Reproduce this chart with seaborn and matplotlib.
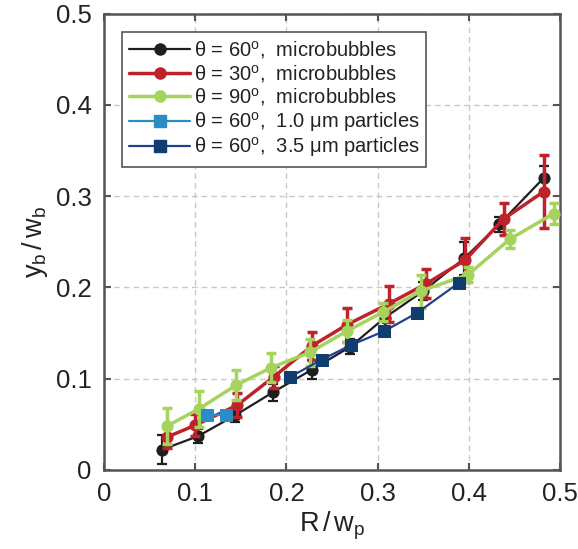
import numpy as np
import pandas as pd
import seaborn as sns
import matplotlib
matplotlib.use("Agg")
import matplotlib.pyplot as plt
from matplotlib.lines import Line2D

# ---- data ----
x_black = [0.063, 0.103, 0.144, 0.185, 0.228, 0.270, 0.308, 0.350, 0.395, 0.433, 0.482]
y_black = [0.022, 0.037, 0.060, 0.085, 0.110, 0.135, 0.167, 0.196, 0.232, 0.269, 0.320]
e_black = [0.016, 0.008, 0.007, 0.009, 0.010, 0.008, 0.010, 0.010, 0.018, 0.008, 0.013]

x_red = [0.069, 0.100, 0.146, 0.186, 0.228, 0.266, 0.312, 0.353, 0.396, 0.438, 0.482]
y_red = [0.036, 0.049, 0.071, 0.102, 0.136, 0.159, 0.182, 0.204, 0.230, 0.275, 0.305]
e_red = [0.012, 0.012, 0.013, 0.012, 0.015, 0.019, 0.020, 0.016, 0.024, 0.018, 0.040]

x_green = [0.069, 0.104, 0.145, 0.183, 0.226, 0.266, 0.306, 0.347, 0.399, 0.445, 0.493]
y_green = [0.048, 0.067, 0.093, 0.112, 0.129, 0.152, 0.173, 0.196, 0.214, 0.253, 0.281]
e_green = [0.020, 0.020, 0.016, 0.016, 0.015, 0.012, 0.010, 0.018, 0.008, 0.010, 0.012]

x_p1 = [0.113, 0.134]
y_p1 = [0.060, 0.060]

x_p35 = [0.204, 0.239, 0.271, 0.307, 0.343, 0.389]
y_p35 = [0.102, 0.121, 0.137, 0.152, 0.172, 0.205]

labels = [r"θ = 60$^{\mathregular{o}}$,  microbubbles",
          r"θ = 30$^{\mathregular{o}}$,  microbubbles",
          r"θ = 90$^{\mathregular{o}}$,  microbubbles",
          r"θ = 60$^{\mathregular{o}}$,  1.0 μm particles",
          r"θ = 60$^{\mathregular{o}}$,  3.5 μm particles"]

xticks = [0, 0.1, 0.2, 0.3, 0.4, 0.5]
yticks = [0, 0.1, 0.2, 0.3, 0.4, 0.5]
ticklabels = ["0", "0.1", "0.2", "0.3", "0.4", "0.5"]

# ---- style ----
sns.set_theme(style="white")
plt.rcParams["font.family"] = ["Liberation Sans", "DejaVu Sans"]
plt.rcParams["mathtext.fontset"] = "custom"
plt.rcParams["mathtext.rm"] = "Liberation Sans"
plt.rcParams["mathtext.it"] = "Liberation Sans"

fig = plt.figure(figsize=(5.78, 5.49), dpi=100)
ax = fig.add_axes([0.180, 0.144, 0.789, 0.831])

c_black = "#1e1e1e"
c_red = "#c0222b"
c_green = "#a5d35c"
c_lb = "#2a8dc4"
c_db = "#0e3d6e"
c_dbl = "#23408f"

series = [
    (x_black, y_black, e_black, c_black, c_black, 1.6, "o", 8, labels[0]),
    (x_red, y_red, e_red, c_red, c_red, 2.5, "o", 8, labels[1]),
    (x_green, y_green, e_green, c_green, c_green, 2.5, "o", 8, labels[2]),
    (x_p1, y_p1, None, c_lb, c_lb, 1.6, "s", 8, labels[3]),
    (x_p35, y_p35, None, c_dbl, c_db, 1.6, "s", 8.5, labels[4]),
]

handles = []
for i, (xs, ys, es, lc, mc, lw, mk, ms, lab) in enumerate(series):
    df = pd.DataFrame({"x": xs, "y": ys})
    if es is not None:
        ax.errorbar(xs, ys, yerr=es, fmt="none", ecolor=lc, elinewidth=lw,
                    capsize=3.5, capthick=lw, zorder=2 + i)
    sns.lineplot(data=df, x="x", y="y", ax=ax, color=lc, linewidth=lw,
                 marker=mk, markersize=ms, markerfacecolor=mc,
                 markeredgecolor=mc, sort=False, zorder=2.5 + i,
                 legend=False)
    handles.append(Line2D([0], [0], color=lc, lw=lw, marker=mk, markersize=ms,
                          markerfacecolor=mc, markeredgecolor=mc, label=lab))

ax.set_xlim(0, 0.5)
ax.set_ylim(0, 0.5)
ax.set_xticks(xticks)
ax.set_yticks(yticks)
ax.set_xticklabels(ticklabels)
ax.set_yticklabels(ticklabels)
ax.grid(True, color="#c8c8c8", linestyle=(0, (4, 3)), linewidth=1.0)
ax.set_axisbelow(True)

for s in ax.spines.values():
    s.set_visible(True)
    s.set_color("#555555")
    s.set_linewidth(1.8)

ax.tick_params(axis="both", which="both", direction="in", length=5, width=1.5,
               color="#555555", labelsize=18.5, labelcolor="#222222",
               top=True, right=True, left=True, bottom=True, pad=9)

ax.set_xlabel(r"$\mathregular{R\,/\,w_p}$", fontsize=19.5, color="#222222", labelpad=2)
ax.set_ylabel(r"$\mathregular{y_b\,/\,w_b}$", fontsize=19.5, color="#222222", labelpad=4)

leg = ax.legend(handles=handles, loc="upper left", bbox_to_anchor=(0.04, 0.96),
                fontsize=14.5, frameon=True, fancybox=False, edgecolor="#555555",
                framealpha=1, handlelength=3.0, handletextpad=0.2,
                labelspacing=0.08, borderpad=0.35, borderaxespad=0)
leg.get_frame().set_linewidth(1.2)
for t in leg.get_texts():
    t.set_color("#222222")

fig.savefig("out.png", dpi=100)
